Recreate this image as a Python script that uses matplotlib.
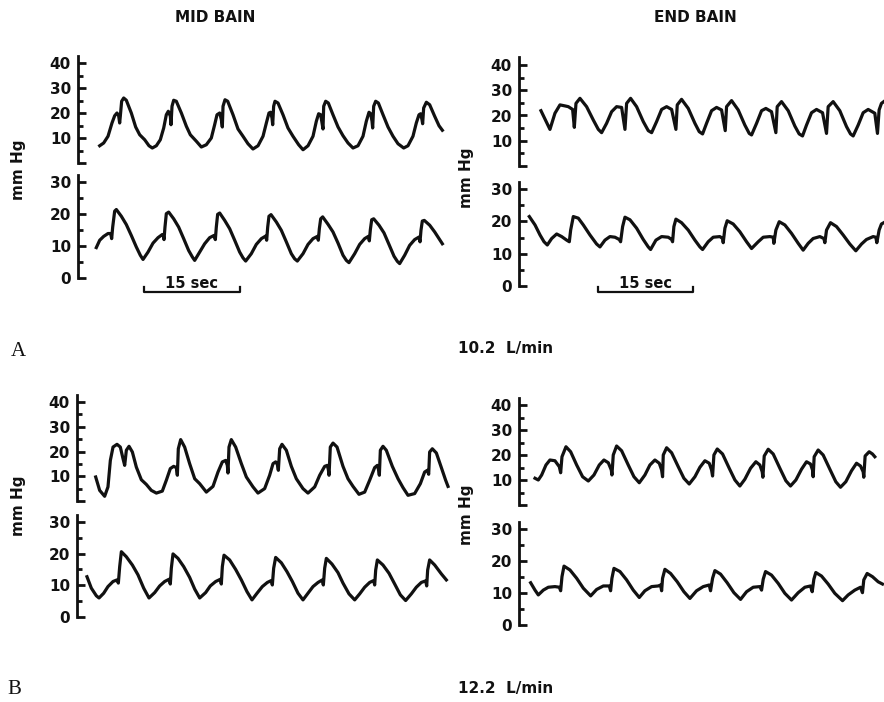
import matplotlib
matplotlib.use("Agg")
import matplotlib.pyplot as plt
from matplotlib.transforms import blended_transform_factory

W, H = 884, 702

# ---- pressure traces (time in s, pressure in mmHg) ----
# Panel A, mid Bain, upper trace
mid_a_up_t = [3.39, 4.01, 4.69, 5.31, 5.73, 6.09, 6.35, 6.51, 6.61, 6.82, 7.14, 7.55, 8.33, 9.01, 9.64, 10.42, 11.09, 11.61, 12.24,
              12.86, 13.39, 13.80, 14.11, 14.43, 14.53, 14.69, 14.95, 15.36, 16.15, 16.93, 17.55, 18.49, 19.27, 20.05,
              20.83, 21.35, 21.72, 22.14, 22.40, 22.55, 22.66, 22.97, 23.39, 24.22, 25.00, 25.78, 26.56, 27.34, 28.13,
              28.91, 29.43, 29.84, 30.10, 30.31, 30.42, 30.57, 30.78, 31.25, 32.03, 32.81, 33.59, 34.48, 35.16, 35.94,
              36.72, 37.24, 37.60, 37.92, 38.13, 38.28, 38.39, 38.70, 39.11, 39.84, 40.63, 41.41, 42.19, 42.97, 43.75,
              44.53, 45.05, 45.47, 45.73, 45.94, 46.04, 46.20, 46.51, 46.93, 47.66, 48.44, 49.22, 50.00, 50.89, 51.56,
              52.34, 52.86, 53.28, 53.54, 53.75, 53.85, 54.01, 54.43, 54.95, 55.73, 56.41, 56.93]
mid_a_up_p = [6.9, 8.0, 10.7, 16.0, 18.9, 20.0, 18.9, 16.0, 18.7, 24.7, 26.0, 25.1, 20.0, 14.4, 11.3, 9.3, 6.9, 6.0, 6.9,
              9.3, 14.0, 19.3, 20.7, 18.7, 15.3, 22.7, 25.1, 24.7, 20.0, 14.7, 11.3, 8.7, 6.4, 7.3,
              10.0, 15.3, 19.3, 20.0, 17.3, 14.4, 22.7, 25.3, 24.7, 19.3, 13.6, 10.7, 7.7, 5.6, 6.9,
              10.7, 16.0, 20.0, 20.3, 18.0, 15.3, 22.7, 24.7, 24.0, 19.3, 14.0, 10.7, 7.3, 5.3, 6.9,
              10.7, 16.7, 19.7, 19.3, 16.0, 13.6, 22.7, 24.7, 24.0, 19.3, 14.4, 10.9, 8.0, 6.0, 6.9,
              10.7, 16.7, 20.3, 19.7, 16.7, 14.0, 22.7, 24.7, 24.0, 19.3, 14.4, 10.7, 7.7, 6.0, 6.9,
              10.7, 16.0, 19.3, 19.7, 17.3, 15.7, 22.0, 24.3, 23.3, 18.7, 14.9, 13.1]

# Panel A, mid Bain, lower trace
mid_a_lo_t = [2.86, 3.39, 4.01, 4.69, 5.10, 5.26, 5.42, 5.73, 5.99, 6.77, 7.55, 8.33, 9.11, 9.74, 10.16,
              10.94, 11.72, 12.50, 13.18, 13.33, 13.44, 13.59, 13.80, 14.17, 14.95, 15.73, 16.51, 17.29, 17.86, 18.23,
              19.01, 19.79, 20.57, 21.25, 21.46, 21.61, 21.82, 22.14, 22.92, 23.70, 24.48, 25.26, 25.78, 26.20,
              27.08, 27.86, 28.65, 29.32, 29.48, 29.64, 29.84, 30.16, 30.99, 31.77, 32.55, 33.33, 33.85, 34.27,
              35.16, 35.94, 36.72, 37.40, 37.55, 37.71, 37.92, 38.23, 39.06, 39.84, 40.63, 41.41, 41.93, 42.34,
              43.23, 44.01, 44.79, 45.36, 45.52, 45.68, 45.89, 46.20, 47.03, 47.81, 48.59, 49.38, 49.90, 50.26,
              51.04, 51.82, 52.60, 53.28, 53.44, 53.59, 53.80, 54.11, 54.95, 55.73, 56.41, 56.93]
mid_a_lo_p = [9.5, 11.8, 13.0, 13.9, 13.9, 12.3, 15.9, 20.9, 21.4, 19.3, 16.7, 13.3, 9.7, 7.1, 5.8,
              8.1, 10.9, 12.6, 13.6, 13.3, 12.0, 15.9, 20.1, 20.6, 18.5, 15.9, 12.3, 8.6, 6.6, 5.5,
              8.1, 10.7, 12.6, 13.3, 12.0, 15.9, 19.9, 20.3, 18.0, 15.4, 11.8, 8.1, 6.3, 5.3,
              7.6, 10.5, 12.3, 13.1, 11.8, 15.9, 19.3, 19.8, 17.5, 14.9, 11.3, 7.6, 6.0, 5.3,
              7.6, 10.5, 12.3, 13.0, 11.8, 15.4, 18.5, 19.1, 16.8, 14.4, 10.9, 7.1, 5.5, 4.8,
              7.6, 10.5, 12.3, 13.0, 11.6, 15.1, 18.2, 18.5, 16.5, 14.1, 10.5, 6.8, 5.2, 4.5,
              7.1, 10.2, 12.0, 12.8, 11.3, 14.9, 17.8, 18.0, 16.5, 14.4, 12.3, 10.7]

# Panel A, end Bain, upper trace
end_a_up_t = [3.47, 4.89, 5.68, 6.47, 7.26, 7.79, 8.47, 8.74, 9.00, 9.63,
              10.68, 11.74, 12.53, 13.05, 13.84, 14.63, 15.42, 16.21, 16.74, 17.00,
              17.63, 18.58, 19.63, 20.42, 20.95, 21.74, 22.53, 23.32, 24.11, 24.79,
              25.00, 25.68, 26.74, 27.79, 28.47, 29.00, 29.63, 30.42, 31.21, 32.00,
              32.58, 32.79, 33.58, 34.63, 35.68, 36.37, 36.74, 37.53, 38.32, 39.00,
              39.89, 40.58, 40.79, 41.47, 42.53, 43.58, 44.26, 44.79, 45.42, 46.21,
              47.00, 47.95, 48.58, 48.84, 49.63, 50.68, 51.74, 52.37, 52.79, 53.58,
              54.37, 55.16, 56.21, 56.63, 56.89, 57.26, 57.63]
end_a_up_p = [21.9, 14.5, 20.9, 24.2, 23.8, 23.5, 22.4, 15.3, 24.8, 26.8,
              23.5, 18.2, 14.5, 13.2, 16.9, 21.5, 23.5, 23.2, 14.5, 24.8,
              26.8, 23.5, 17.6, 14.0, 13.2, 17.6, 22.4, 23.5, 22.4, 14.5,
              24.2, 26.4, 22.8, 16.9, 13.6, 12.7, 16.9, 21.9, 23.2, 22.2,
              14.0, 23.5, 25.9, 22.2, 16.2, 12.9, 12.3, 16.9, 21.9, 22.8,
              21.5, 13.2, 23.5, 25.5, 21.9, 15.8, 12.7, 11.9, 16.2, 21.1,
              22.4, 21.1, 12.9, 23.5, 25.5, 21.9, 15.6, 12.7, 11.9, 16.2,
              21.1, 22.4, 20.9, 12.9, 22.2, 24.8, 25.5]

# Panel A, end Bain, lower trace
end_a_lo_t = [1.63, 2.53, 3.32, 3.95, 4.47, 5.16, 5.95, 6.74, 7.53, 7.95,
              8.16, 8.58, 9.37, 10.16, 11.21, 12.26, 12.79, 13.58, 14.37, 15.16,
              15.84, 16.05, 16.37, 16.74, 17.53, 18.58, 19.63, 20.42, 20.79, 21.63,
              22.53, 23.58, 24.11, 24.26, 24.47, 24.79, 25.68, 26.74, 27.79, 28.58,
              29.00, 29.89, 30.68, 31.74, 32.16, 32.26, 32.53, 32.89, 33.84, 34.89,
              35.95, 36.74, 37.79, 38.58, 39.63, 40.16, 40.26, 40.58, 41.11, 42.00,
              43.05, 44.11, 44.89, 45.68, 46.47, 47.53, 48.16, 48.32, 48.58, 49.21,
              50.16, 51.21, 52.26, 53.21, 54.11, 54.89, 55.95, 56.37, 56.53, 56.89,
              57.26, 57.63]
end_a_lo_p = [21.5, 18.9, 15.8, 13.7, 12.7, 14.7, 16.1, 15.3, 14.2, 13.7,
              17.3, 21.5, 21.0, 18.9, 15.8, 13.0, 12.1, 14.2, 15.3, 15.1,
              14.4, 13.7, 18.4, 21.3, 20.5, 17.9, 14.4, 12.1, 11.3, 14.2,
              15.3, 15.1, 14.4, 13.7, 18.4, 20.7, 19.6, 17.3, 14.2, 12.1,
              11.3, 13.7, 15.1, 15.3, 14.7, 13.4, 17.9, 20.2, 19.2, 16.8,
              13.7, 11.6, 13.7, 15.1, 15.3, 15.1, 13.2, 17.3, 19.9, 18.9,
              16.3, 13.2, 11.1, 13.2, 14.7, 15.3, 14.7, 13.4, 17.3, 19.6,
              18.4, 15.8, 13.0, 10.9, 13.0, 14.4, 15.3, 15.1, 13.4, 17.3,
              19.2, 19.6]

# Panel B, mid Bain, upper trace
mid_b_up_t = [2.92, 3.54, 4.32, 4.84, 5.21, 5.63, 6.25, 6.77, 7.19, 7.45,
              7.71, 8.13, 8.65, 9.27, 10.05, 10.83, 11.61, 12.40, 13.33, 13.96,
              14.58, 15.10, 15.52, 15.68, 15.83, 16.20, 16.82, 17.60, 18.39, 19.17,
              20.21, 21.25, 22.03, 22.71, 23.23, 23.49, 23.59, 23.75, 24.11, 24.79,
              25.68, 26.46, 27.50, 28.28, 29.32, 30.10, 30.63, 31.04, 31.30, 31.46,
              31.67, 32.03, 32.71, 33.49, 34.27, 35.31, 36.09, 37.14, 37.92, 38.70,
              39.11, 39.27, 39.38, 39.58, 40.00, 40.63, 41.56, 42.34, 43.13, 44.06,
              44.95, 45.73, 46.51, 46.93, 47.14, 47.24, 47.40, 47.81, 48.33, 49.27,
              50.16, 50.94, 51.72, 52.76, 53.65, 54.32, 54.74, 54.95, 55.10, 55.52,
              56.15, 56.93, 57.60, 57.97]
mid_b_up_p = [9.7, 4.3, 1.9, 5.7, 16.4, 21.8, 22.9, 21.8, 17.1, 14.4,
              20.5, 22.1, 19.8, 13.7, 8.6, 6.7, 4.3, 3.2, 4.0, 8.4,
              13.1, 14.0, 13.5, 10.4, 21.1, 24.8, 21.8, 15.1, 9.0, 7.0,
              3.6, 5.9, 11.7, 15.8, 16.4, 14.4, 11.3, 21.8, 24.8, 21.8,
              15.1, 9.7, 5.7, 3.2, 5.0, 10.4, 15.1, 15.8, 14.8, 12.4,
              21.1, 22.9, 20.5, 14.0, 9.0, 5.0, 3.2, 5.7, 10.4, 14.0,
              14.4, 12.7, 10.4, 21.8, 23.4, 21.8, 14.0, 9.0, 5.9, 2.7,
              3.6, 8.4, 13.5, 14.4, 12.4, 10.4, 20.5, 22.1, 20.5, 14.0,
              9.0, 5.4, 2.3, 3.0, 7.0, 11.7, 12.4, 10.8, 19.8, 21.1,
              19.4, 13.5, 8.4, 5.9]

# Panel B, mid Bain, lower trace
mid_b_lo_t = [1.56, 2.24, 3.02, 3.44, 4.17, 4.84, 5.63, 6.25, 6.46, 6.67,
              6.93, 7.71, 8.65, 9.53, 10.42, 11.25, 12.14, 12.92, 13.70, 14.38,
              14.58, 14.74, 15.00, 15.78, 16.67, 17.60, 18.39, 19.17, 20.10, 20.83,
              21.67, 22.40, 22.55, 22.71, 22.97, 23.85, 24.79, 25.68, 26.56, 27.34,
              28.13, 28.96, 29.74, 30.36, 30.52, 30.73, 31.04, 31.93, 32.81, 33.65,
              34.53, 35.31, 36.09, 36.88, 37.66, 38.33, 38.49, 38.70, 38.96, 39.84,
              40.78, 41.56, 42.50, 43.39, 44.17, 44.95, 45.73, 46.35, 46.51, 46.67,
              46.93, 47.81, 48.75, 49.64, 50.52, 51.35, 52.24, 53.02, 53.80, 54.48,
              54.64, 54.79, 55.10, 55.89, 56.93, 57.71]
mid_b_lo_p = [12.7, 9.1, 6.7, 6.0, 7.5, 9.6, 11.2, 11.7, 10.7, 15.9,
              20.6, 19.0, 16.4, 13.3, 9.1, 6.0, 7.7, 9.8, 11.2, 11.9,
              10.4, 15.4, 19.9, 18.5, 15.9, 12.5, 8.8, 6.0, 7.7, 9.8,
              11.2, 11.9, 10.4, 15.9, 19.5, 18.0, 15.0, 11.7, 8.0, 5.4,
              7.5, 9.6, 10.9, 11.5, 10.1, 15.4, 18.8, 17.1, 14.3, 11.2,
              7.5, 5.4, 7.5, 9.6, 10.9, 11.7, 10.1, 15.4, 18.5, 16.7,
              14.0, 10.7, 7.3, 5.4, 7.3, 9.4, 10.9, 11.5, 10.1, 14.8,
              18.0, 16.4, 13.8, 10.4, 7.0, 5.2, 7.3, 9.4, 10.9, 11.4,
              9.8, 14.8, 18.0, 16.4, 13.6, 11.7]

# Panel B, end Bain, upper trace
end_b_up_t = [2.53, 3.05, 3.58, 4.26, 4.89, 5.68, 6.37, 6.58, 6.79, 7.42,
              8.16, 9.11, 10.05, 10.95, 11.84, 12.68, 13.42, 14.11, 14.58, 14.68,
              14.89, 15.42, 16.21, 17.26, 18.16, 19.00, 19.89, 20.68, 21.47, 22.16,
              22.53, 22.68, 22.79, 23.32, 24.11, 25.16, 26.05, 26.89, 27.79, 28.58,
              29.37, 30.05, 30.42, 30.58, 30.79, 31.32, 32.16, 33.21, 34.11, 34.89,
              35.68, 36.58, 37.42, 38.05, 38.42, 38.53, 38.74, 39.37, 40.16, 41.21,
              42.16, 42.89, 43.74, 44.63, 45.42, 46.05, 46.37, 46.47, 46.63, 47.26,
              48.05, 49.11, 50.05, 50.79, 51.63, 52.53, 53.32, 53.95, 54.37, 54.47,
              54.68, 55.32, 55.84, 56.21]
end_b_up_p = [10.7, 10.0, 12.0, 16.0, 18.0, 17.7, 15.3, 12.9, 19.3, 23.3,
              21.3, 16.0, 11.3, 9.6, 12.0, 16.0, 18.0, 16.9, 14.0, 12.0,
              20.0, 23.6, 21.7, 16.0, 11.3, 8.9, 12.0, 16.0, 18.0, 16.7,
              14.0, 11.3, 20.0, 22.9, 20.9, 15.3, 10.7, 8.4, 11.3, 15.1,
              17.7, 16.7, 14.0, 11.6, 20.0, 22.4, 20.4, 14.7, 10.0, 7.6,
              10.3, 14.7, 17.3, 16.0, 13.3, 11.1, 19.6, 22.3, 20.4, 14.7,
              9.7, 7.6, 10.0, 14.3, 17.3, 16.4, 14.0, 11.3, 19.3, 22.0,
              20.0, 14.3, 9.3, 7.1, 9.3, 13.7, 16.7, 15.6, 13.3, 11.1,
              19.6, 21.3, 20.4, 19.3]

# Panel B, end Bain, lower trace
end_b_lo_t = [1.84, 2.53, 3.05, 3.84, 4.63, 5.68, 6.37, 6.58, 6.79, 7.11,
              8.05, 9.11, 10.16, 11.32, 12.26, 13.32, 14.26, 14.47, 14.68, 15.00,
              15.95, 17.00, 18.05, 19.00, 19.89, 20.95, 22.00, 22.37, 22.53, 22.68,
              23.05, 23.95, 25.00, 26.05, 27.00, 28.05, 29.11, 30.05, 30.26, 30.58,
              30.95, 31.84, 32.89, 33.95, 35.00, 35.95, 37.00, 38.05, 38.32, 38.58,
              38.95, 39.89, 40.95, 42.00, 43.05, 44.11, 45.16, 46.05, 46.32, 46.58,
              46.89, 47.79, 48.84, 49.89, 51.11, 52.00, 53.05, 53.95, 54.26, 54.47,
              55.00, 55.84, 56.74, 57.42]
end_b_lo_p = [13.2, 10.9, 9.4, 10.9, 11.8, 12.0, 11.8, 10.7, 15.1, 18.4,
              17.2, 14.6, 11.5, 9.1, 11.1, 12.2, 12.2, 10.7, 14.6, 17.7,
              16.7, 14.1, 10.9, 8.6, 10.7, 12.0, 12.2, 12.5, 10.7, 14.6,
              17.4, 16.1, 13.5, 10.4, 8.3, 10.7, 12.0, 12.5, 10.7, 14.6,
              17.0, 15.9, 13.2, 10.1, 8.0, 10.4, 11.8, 12.0, 10.9, 14.3,
              16.7, 15.6, 13.0, 9.9, 7.8, 10.1, 11.8, 12.2, 10.4, 14.3,
              16.4, 15.3, 12.8, 9.9, 7.6, 9.4, 10.9, 11.8, 10.1, 14.1,
              16.1, 15.1, 13.5, 12.8]

upper_ticks = [0, 10, 20, 30, 40]
upper_labels = ["", "10", "20", "30", "40"]
lower_ticks = [0, 10, 20, 30]
lower_labels = ["0", "10", "20", "30"]
scale_sec = 15
column_titles = ["MID BAIN", "END BAIN"]
flow_labels = ["10.2  L/min", "12.2  L/min"]
panel_letters = ["A", "B"]

SANS = "DejaVu Sans"
INK = "#111111"


def px_axes(fig, left, top, width, height):
    return fig.add_axes([left / W, 1 - (top + height) / H, width / W, height / H])


def style_axis(ax, ticks, labels, minor, ytop, xmax):
    ax.set_xlim(0, xmax)
    ax.set_ylim(0, ytop)
    for s in ["top", "right", "bottom"]:
        ax.spines[s].set_visible(False)
    ax.spines["left"].set_linewidth(2.0)
    ax.spines["left"].set_color(INK)
    ax.set_xticks([])
    ax.set_yticks(ticks)
    ax.set_yticklabels(labels, fontfamily=SANS, fontsize=11, fontweight="bold", color=INK)
    ax.set_yticks(minor, minor=True)
    ax.tick_params(axis="y", which="major", direction="in", length=6, width=2.0, pad=5, color=INK)
    ax.tick_params(axis="y", which="minor", direction="in", length=3.5, width=2.0, color=INK)
    ax.patch.set_visible(False)


def panel(fig, left, px_sec, xmax, up_zero, up_ppu, lo_zero, lo_ppu, up, lo):
    width = xmax * px_sec
    up_top, lo_top = 43.0, 32.3
    ax_u = px_axes(fig, left, up_zero - up_top * up_ppu, width, up_top * up_ppu)
    ax_l = px_axes(fig, left, lo_zero - lo_top * lo_ppu, width, lo_top * lo_ppu)
    style_axis(ax_u, upper_ticks, upper_labels, [5, 15, 25, 35], up_top, xmax)
    style_axis(ax_l, lower_ticks, lower_labels, [5, 15, 25], lo_top, xmax)
    ax_u.plot(up[0], up[1], color=INK, lw=2.3, solid_joinstyle="round", clip_on=False)
    ax_l.plot(lo[0], lo[1], color=INK, lw=2.3, solid_joinstyle="round", clip_on=False)
    return ax_u, ax_l


def scale_bar(fig, ax, t0, y_bar, y_text):
    tr = blended_transform_factory(ax.transData, fig.transFigure)
    yb = 1 - y_bar / H
    yt = 1 - (y_bar - 5) / H
    ax.plot([t0, t0, t0 + scale_sec, t0 + scale_sec], [yt, yb, yb, yt], transform=tr,
            color=INK, lw=1.6, clip_on=False)
    ax.text(t0 + scale_sec / 2, 1 - y_text / H, f"{scale_sec} sec", transform=tr,
            ha="center", va="center", fontfamily=SANS, fontsize=10.5, fontweight="bold", color=INK)


fig = plt.figure(figsize=(W / 100, H / 100), dpi=100)
fig.patch.set_facecolor("white")

_, a_mid_lo = panel(fig, 78, 6.4, 58.0, 163, 2.5, 278, 3.2,
                    (mid_a_up_t, mid_a_up_p), (mid_a_lo_t, mid_a_lo_p))
_, a_end_lo = panel(fig, 519, 6.33, 57.66, 166, 2.525, 286, 3.23,
                    (end_a_up_t, end_a_up_p), (end_a_lo_t, end_a_lo_p))
panel(fig, 77, 6.4, 58.3, 501, 2.475, 617, 3.17,
      (mid_b_up_t, mid_b_up_p), (mid_b_lo_t, mid_b_lo_p))
panel(fig, 519, 6.33, 57.66, 505, 2.5, 625, 3.2,
      (end_b_up_t, end_b_up_p), (end_b_lo_t, end_b_lo_p))

scale_bar(fig, a_mid_lo, 10.3, 292, 283)
scale_bar(fig, a_end_lo, 12.5, 292, 284)

txt = dict(fontfamily=SANS, fontweight="bold", color=INK, ha="center", va="center")
fig.text(215 / W, 1 - 18 / H, column_titles[0], fontsize=11, **txt)
fig.text(695 / W, 1 - 18 / H, column_titles[1], fontsize=11, **txt)
for x, y in [(18, 170), (467, 178), (18, 506), (467, 515)]:
    fig.text(x / W, 1 - y / H, "mm Hg", rotation=90, fontsize=11, **txt)
fig.text(506 / W, 1 - 348 / H, flow_labels[0], fontsize=11, **txt)
fig.text(506 / W, 1 - 689 / H, flow_labels[1], fontsize=11, **txt)

serif = dict(fontfamily="Liberation Serif", color=INK, ha="center", va="center", fontsize=15)
fig.text(18 / W, 1 - 352 / H, panel_letters[0], **serif)
fig.text(14 / W, 1 - 690 / H, panel_letters[1], **serif)

fig.savefig("out.png", dpi=100, facecolor="white")
